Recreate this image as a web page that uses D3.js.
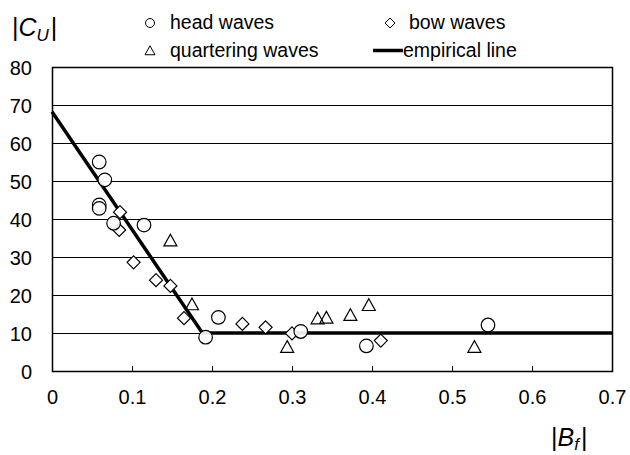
<!DOCTYPE html>
<html>
<head>
<meta charset="utf-8">
<script src="https://d3js.org/d3.v7.min.js"></script>
<style>
  body { margin: 0; background: #fff; }
  text { font-family: Arial, "Liberation Sans", sans-serif; fill: #000; }
</style>
</head>
<body>
<div class="canvas"></div>
<script>
// ---- data ----
const headX = [0.059, 0.066, 0.059, 0.059, 0.077, 0.115, 0.192, 0.208, 0.311, 0.393, 0.545];
const headY = [55.0, 50.3, 43.7, 42.8, 38.9, 38.4, 8.9, 14.1, 10.4, 6.6, 12.1];

const bowX = [0.085, 0.084, 0.102, 0.130, 0.148, 0.165, 0.238, 0.267, 0.300, 0.411];
const bowY = [41.8, 37.1, 28.6, 23.9, 22.4, 13.9, 12.4, 11.5, 9.9, 8.0];

const quarterX = [0.148, 0.175, 0.294, 0.332, 0.343, 0.373, 0.396, 0.528];
const quarterY = [34.2, 17.4, 6.2, 13.7, 13.9, 14.6, 17.2, 6.2];

const lineX = [0, 0.188, 0.7];
const lineY = [68.2, 10, 10];

const xTicks = [0, 0.1, 0.2, 0.3, 0.4, 0.5, 0.6, 0.7];
const yTicks = [0, 10, 20, 30, 40, 50, 60, 70, 80];

// ---- layout ----
const width = 630, height = 455;
const plot = { left: 52, right: 612, top: 67, bottom: 371 };

const svg = d3.select('.canvas')
    .append('svg')
    .attr('width', width)
    .attr('height', height);

const x = d3.scaleLinear().domain([0, 0.7]).range([plot.left, plot.right]);
const y = d3.scaleLinear().domain([0, 80]).range([plot.bottom, plot.top]);

// horizontal gridlines
svg.append('g')
    .selectAll('line')
    .data(yTicks.filter(d => d > 0 && d < 80))
    .enter().append('line')
        .attr('x1', plot.left).attr('x2', plot.right)
        .attr('y1', d => Math.round(y(d)) + 0.5).attr('y2', d => Math.round(y(d)) + 0.5)
        .attr('stroke', '#000')
        .attr('stroke-width', 1);

// x axis, ticks pointing into the plot
const xAxisGroup = svg.append('g')
    .attr('transform', `translate(0, ${plot.bottom})`)
    .call(d3.axisBottom(x).tickValues(xTicks).tickSizeInner(-5).tickSizeOuter(0)
        .tickFormat(d => d === 0 ? '0' : d3.format('.1f')(d)));
xAxisGroup.select('.domain').remove();
xAxisGroup.selectAll('line').attr('stroke', '#000');
xAxisGroup.selectAll('text')
    .attr('y', 33)
    .attr('dy', 0)
    .style('font-size', '20px')
    .style('font-family', 'Arial, "Liberation Sans", sans-serif');

// y axis labels only
const yAxisGroup = svg.append('g')
    .attr('transform', `translate(${plot.left}, 0)`)
    .call(d3.axisLeft(y).tickValues(yTicks).tickSize(0).tickPadding(20));
yAxisGroup.select('.domain').remove();
yAxisGroup.selectAll('text')
    .attr('dy', '0.35em')
    .style('font-size', '20px')
    .style('font-family', 'Arial, "Liberation Sans", sans-serif');

// plot frame
svg.append('rect')
    .attr('x', plot.left + 0.5).attr('y', plot.top + 0.5)
    .attr('width', plot.right - plot.left).attr('height', plot.bottom - plot.top)
    .attr('fill', 'none')
    .attr('stroke', '#000')
    .attr('stroke-width', 1.5);

// empirical line
svg.append('path')
    .datum(lineX.map((d, i) => [d, lineY[i]]))
    .attr('d', d3.line().x(d => x(d[0])).y(d => y(d[1])))
    .attr('fill', 'none')
    .attr('stroke', '#000')
    .attr('stroke-width', 3.5);

// markers
const diamond = s => `M0,${-s}L${s},0L0,${s}L${-s},0Z`;
const triangle = s => `M0,${-s * 1.05}L${s},${s * 0.75}L${-s},${s * 0.75}Z`;

svg.append('g').selectAll('path')
    .data(quarterX.map((d, i) => [d, quarterY[i]]))
    .enter().append('path')
        .attr('d', triangle(6.5))
        .attr('transform', d => `translate(${x(d[0])},${y(d[1])})`)
        .attr('fill', 'none')
        .attr('stroke', '#000')
        .attr('stroke-width', 1.2);

svg.append('g').selectAll('path')
    .data(bowX.map((d, i) => [d, bowY[i]]))
    .enter().append('path')
        .attr('d', diamond(6.5))
        .attr('transform', d => `translate(${x(d[0])},${y(d[1])})`)
        .attr('fill', '#fff')
        .attr('stroke', '#000')
        .attr('stroke-width', 1.2);

svg.append('g').selectAll('circle')
    .data(headX.map((d, i) => [d, headY[i]]))
    .enter().append('circle')
        .attr('cx', d => x(d[0]))
        .attr('cy', d => y(d[1]))
        .attr('r', 6.8)
        .attr('fill', '#fff')
        .attr('fill-opacity', 0.9)
        .attr('stroke', '#000')
        .attr('stroke-width', 1.2);

// axis titles
const yTitle = svg.append('text')
    .attr('x', 12).attr('y', 36)
    .style('font-size', '25px');
yTitle.append('tspan').text('|');
yTitle.append('tspan').style('font-style', 'italic').text('C');
yTitle.append('tspan').style('font-style', 'italic').style('font-size', '17px').attr('dy', 5).text('U');
yTitle.append('tspan').attr('dy', -5).attr('dx', 2).text('|');

const xTitle = svg.append('text')
    .attr('x', 551).attr('y', 446)
    .style('font-size', '25px');
xTitle.append('tspan').text('|');
xTitle.append('tspan').style('font-style', 'italic').text('B');
xTitle.append('tspan').style('font-style', 'italic').style('font-size', '17px').attr('dy', 4).text('f');
xTitle.append('tspan').attr('dy', -4).attr('dx', 2).text('|');

// legend
const legend = svg.append('g');
legend.append('circle').attr('cx', 150).attr('cy', 23).attr('r', 4.5)
    .attr('fill', 'none').attr('stroke', '#000').attr('stroke-width', 1);
legend.append('text').attr('x', 170).attr('y', 29).style('font-size', '19.5px').text('head waves');

legend.append('path').attr('d', triangle(5)).attr('transform', 'translate(150,51)')
    .attr('fill', 'none').attr('stroke', '#000').attr('stroke-width', 1);
legend.append('text').attr('x', 170).attr('y', 57).style('font-size', '19.5px').text('quartering waves');

legend.append('path').attr('d', diamond(5)).attr('transform', 'translate(390,23)')
    .attr('fill', 'none').attr('stroke', '#000').attr('stroke-width', 1);
legend.append('text').attr('x', 409).attr('y', 29).style('font-size', '19.5px').text('bow waves');

legend.append('line').attr('x1', 373).attr('x2', 403).attr('y1', 50.5).attr('y2', 50.5)
    .attr('stroke', '#000').attr('stroke-width', 3.5);
legend.append('text').attr('x', 403).attr('y', 57).style('font-size', '19.5px').text('empirical line');
</script>
</body>
</html>
